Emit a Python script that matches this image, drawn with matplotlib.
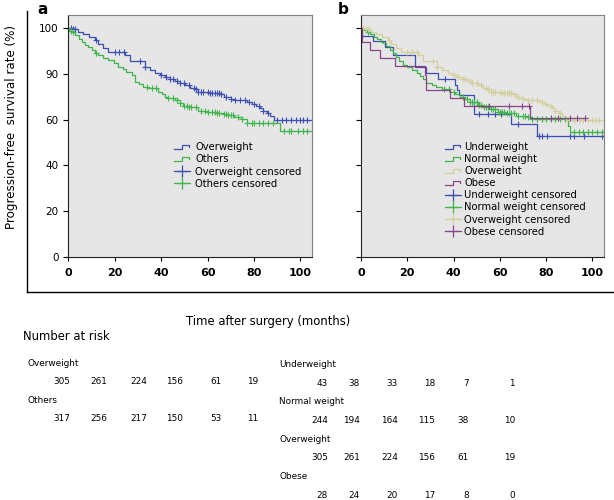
import numpy as np
import matplotlib
matplotlib.use("Agg")
import matplotlib.pyplot as plt
from matplotlib.lines import Line2D
from matplotlib.legend_handler import HandlerBase

# Kaplan-Meier steps: (time in months, survival % after that time)
ow_t = [0, 2, 4.3, 6.5, 9, 11.5, 13, 15, 17.3, 24.5, 26.6, 33, 35, 37.4, 39.5, 41.7, 44, 46, 48,
        50.4, 52.5, 54.5, 56, 61, 65.5, 67, 70, 72, 77, 79, 81, 82.7, 84, 85.6, 87, 88.5]
ow_s = [100, 99.4, 98.4, 97.5, 96.2, 94.8, 93.0, 91.5, 89.7, 88.2, 85.7, 83.1, 81.8, 80.2, 79.3, 78.5, 77.7, 77.0, 76.0,
        75.1, 74.0, 73.2, 72.2, 71.5, 71.0, 69.7, 69.2, 68.6, 67.8, 66.8, 65.8, 64.9, 63.8, 62.7, 61.8, 59.8]
ow_cens = [1, 2, 3, 12, 20, 22, 24, 31, 33, 40, 42, 44, 45, 47, 48, 50, 52, 54, 55, 56, 57, 58, 60, 61, 62,
           63, 64, 65, 66, 68, 70, 72, 74, 76, 78, 80, 82, 84, 86, 90, 92, 94, 96, 98, 100, 101, 103]

oth_t = [0, 0.5, 1.5, 3, 4.5, 5.8, 7, 8.5, 10.1, 11.5, 13, 15, 17.3, 19.5, 21.6, 23.5, 25, 27.4, 28.8, 30.5,
         32.4, 34.5, 38.8, 40.5, 41.7, 43, 46, 48, 49.6, 51.8, 56, 60, 63.3, 67, 69, 71.2, 74.8, 77, 91.4]
oth_s = [100, 98.8, 98.3, 96.8, 95.4, 94.0, 92.8, 91.6, 90.4, 89.3, 88.2, 87.1, 86.0, 84.6, 83.1, 82.0, 80.8, 79.5, 76.6, 75.6,
         74.3, 73.7, 72.2, 71.2, 70.0, 69.3, 68.6, 67.4, 65.8, 65.4, 63.9, 63.5, 63.0, 62.3, 62.0, 61.0, 60.1, 58.7, 55.0]
oth_cens = [1, 2, 12, 34, 36, 38, 43, 45, 47, 48, 50, 51, 52, 53, 55, 57, 59, 60, 62, 63, 64, 65, 67, 68, 69,
            70, 71, 73, 75, 77, 79, 80, 82, 84, 86, 88, 93, 95, 96, 99, 101, 103]

uw_t = [0, 0.6, 5.3, 10.3, 13.9, 23.3, 28, 33.3, 40.8, 41.5, 42.5, 48.8, 65, 76]
uw_s = [100, 96.5, 94.2, 91.9, 88.4, 83.1, 80.5, 77.8, 75.2, 72.9, 70.6, 62.5, 58.0, 52.8]
uw_cens = [36.5, 51, 55, 58, 60.7, 67.7, 77, 78.4, 80.5, 90.5, 92, 96.3, 104]

nw_t = [0, 1, 2.5, 3.9, 5.5, 7, 8.5, 9.6, 11, 12.5, 13.9, 15, 16.5, 18.2, 20, 22, 24, 25.5, 27, 28.3,
        30.5, 32.6, 35, 38.4, 40.5, 42.7, 45, 47, 50.4, 52.7, 56, 59, 63, 67.1, 72, 73.4, 89.5, 90.5]
nw_s = [100, 99.0, 98.2, 97.5, 96.2, 95.0, 94.0, 93.3, 92.0, 90.5, 89.0, 87.5, 85.8, 83.8, 82.8, 81.6, 80.2, 79.2, 77.8, 75.8,
        75.0, 74.1, 73.3, 72.2, 71.2, 70.0, 68.8, 67.8, 66.4, 65.6, 64.5, 63.5, 62.7, 61.6, 61.2, 60.1, 57.0, 54.7]
nw_cens = [2, 3, 36, 38, 40, 44, 46, 47, 48, 49, 50, 51, 52, 53, 54, 55, 56, 57, 58, 59, 60, 61, 62, 63, 64,
           65, 66, 68, 70, 71, 72, 74, 76, 78, 80, 82, 84, 86, 88, 92, 94, 96, 98, 100, 102, 104]

ob_t = [0, 0.3, 3.8, 8.1, 14.8, 27.6, 28.2, 38.4, 44.5, 73]
ob_s = [100, 94.0, 90.4, 86.8, 83.3, 79.7, 72.9, 69.5, 65.9, 60.7]
ob_cens = [55.1, 63.8, 69.5, 72.4, 82, 85, 90.5, 93.4, 97]

# number at risk tables
risk_a = [("Overweight", [305, 261, 224, 156, 61, 19]),
          ("Others", [317, 256, 217, 150, 53, 11])]
risk_b = [("Underweight", [43, 38, 33, 18, 7, 1]),
          ("Normal weight", [244, 194, 164, 115, 38, 10]),
          ("Overweight", [305, 261, 224, 156, 61, 19]),
          ("Obese", [28, 24, 20, 17, 8, 0])]

BLUE = '#3d4fb0'
GREEN = '#3fb54c'
TAN = '#d2cf9c'
PURPLE = '#8c4488'
W, H = 614, 500


class StepHandler(HandlerBase):
    def create_artists(self, legend, orig_handle, xdescent, ydescent, width, height, fontsize, trans):
        xs = np.array([0, 0.5, 0.5, 0.92, 0.92]) * width - xdescent
        ys = np.array([0.15, 0.15, 0.75, 0.75, 0.5]) * height - ydescent
        ln = Line2D(xs, ys, color=orig_handle.get_color(), lw=0.9)
        ln.set_transform(trans)
        return [ln]


def km(ax, t, s, cens, color, t_end):
    t = np.append(t, t_end)
    s = np.append(s, s[-1])
    line, = ax.step(t, s, where='post', color=color, lw=0.9)
    cens = np.array(cens)
    idx = np.searchsorted(t, cens, side='right') - 1
    ax.plot(cens, s[idx], ls='none', marker='+', ms=4, mew=0.8, color=color)
    return line


def style(ax, ylabels):
    ax.set_facecolor('#e6e6e6')
    ax.set_xlim(0, 105)
    ax.set_ylim(0, 105.7)
    ax.set_xticks([0, 20, 40, 60, 80, 100])
    ax.set_yticks([0, 20, 40, 60, 80, 100])
    ax.set_yticklabels(['0', '20', '40', '60', '90', '100'] if ylabels else [])
    for lab in ax.get_xticklabels():
        lab.set_fontweight('bold')
    ax.tick_params(axis='x', length=3, width=0.8, pad=5, labelsize=8)
    ax.tick_params(axis='y', length=3.5, width=0.8, pad=3.5, labelsize=7.5)
    for side in ['top', 'right']:
        ax.spines[side].set_color('#808080')
        ax.spines[side].set_linewidth(0.8)
    for side in ['left', 'bottom']:
        ax.spines[side].set_color('#222222')
        ax.spines[side].set_linewidth(0.8)


fig = plt.figure(figsize=(6.14, 5.0), dpi=100)
ax_a = fig.add_axes([68.3 / W, 1 - 257 / H, 243.7 / W, 242 / H])
ax_b = fig.add_axes([361 / W, 1 - 257 / H, 243 / W, 242 / H])

# panel a
l1 = km(ax_a, ow_t, ow_s, ow_cens, BLUE, 105)
l2 = km(ax_a, oth_t, oth_s, oth_cens, GREEN, 105)
style(ax_a, True)
c1 = Line2D([], [], color=BLUE, lw=0.9, marker='+', ms=8, mew=0.9)
c2 = Line2D([], [], color=GREEN, lw=0.9, marker='+', ms=8, mew=0.9)
ax_a.legend([l1, l2, c1, c2], ['Overweight', 'Others', 'Overweight censored', 'Others censored'],
            handler_map={l1: StepHandler(), l2: StepHandler()}, numpoints=1,
            loc='upper left', bbox_to_anchor=(174 / W, 1 - 142 / H), bbox_transform=fig.transFigure,
            frameon=False, fontsize=7.2, handlelength=1.6, handletextpad=0.5, labelspacing=0.23,
            borderpad=0, borderaxespad=0)

# panel b
b1 = km(ax_b, uw_t, uw_s, uw_cens, BLUE, 104.5)
b2 = km(ax_b, nw_t, nw_s, nw_cens, GREEN, 105)
b3 = km(ax_b, ow_t, ow_s, ow_cens, TAN, 105)
b4 = km(ax_b, ob_t, ob_s, ob_cens, PURPLE, 97)
style(ax_b, False)
cb = [Line2D([], [], color=c, lw=0.9, marker='+', ms=8, mew=0.9) for c in [BLUE, GREEN, TAN, PURPLE]]
ax_b.legend([b1, b2, b3, b4] + cb,
            ['Underweight', 'Normal weight', 'Overweight', 'Obese', 'Underweight censored',
             'Normal weight censored', 'Overweight censored', 'Obese censored'],
            handler_map={h: StepHandler() for h in [b1, b2, b3, b4]}, numpoints=1,
            loc='upper left', bbox_to_anchor=(445 / W, 1 - 142 / H), bbox_transform=fig.transFigure,
            frameon=False, fontsize=7.2, handlelength=1.6, handletextpad=0.35, labelspacing=0.21,
            borderpad=0, borderaxespad=0)

# frame, labels
fig.add_artist(Line2D([27 / W, 27 / W], [1 - 11 / H, 1 - 292 / H], color='black', lw=1.0))
fig.add_artist(Line2D([27 / W, 1.0], [1 - 292 / H, 1 - 292 / H], color='black', lw=1.0))
fig.text(43 / W, 1 - 9 / H, 'a', fontsize=11, fontweight='bold', ha='center', va='center')
fig.text(343 / W, 1 - 9 / H, 'b', fontsize=11, fontweight='bold', ha='center', va='center')
fig.text(12 / W, 1 - 127 / H, 'Progression-free  survival rate (%)', rotation=90,
         fontsize=8.6, ha='center', va='center')
fig.text(268 / W, 1 - 322 / H, 'Time after surgery (months)', fontsize=8.4, ha='center', va='center')
fig.text(23 / W, 1 - 336 / H, 'Number at risk', fontsize=8.4, ha='left', va='center')

# number at risk tables
cols_a = [70, 107, 147, 183, 222, 258]
rows_a = [363, 400.5]
for (name, vals), y in zip(risk_a, rows_a):
    fig.text(27 / W, 1 - y / H, name, fontsize=6.4, ha='left', va='center')
    for v, x in zip(vals, cols_a):
        fig.text(x / W, 1 - (y + 18) / H, str(v), fontsize=6.4, ha='right', va='center')

cols_b = [328, 360, 398, 435, 469, 515]
rows_b = [364.5, 402, 439, 476.5]
for (name, vals), y in zip(risk_b, rows_b):
    fig.text(279 / W, 1 - y / H, name, fontsize=6.4, ha='left', va='center')
    for v, x in zip(vals, cols_b):
        fig.text(x / W, 1 - (y + 18.5) / H, str(v), fontsize=6.4, ha='right', va='center')

fig.savefig('out.png', dpi=100)
